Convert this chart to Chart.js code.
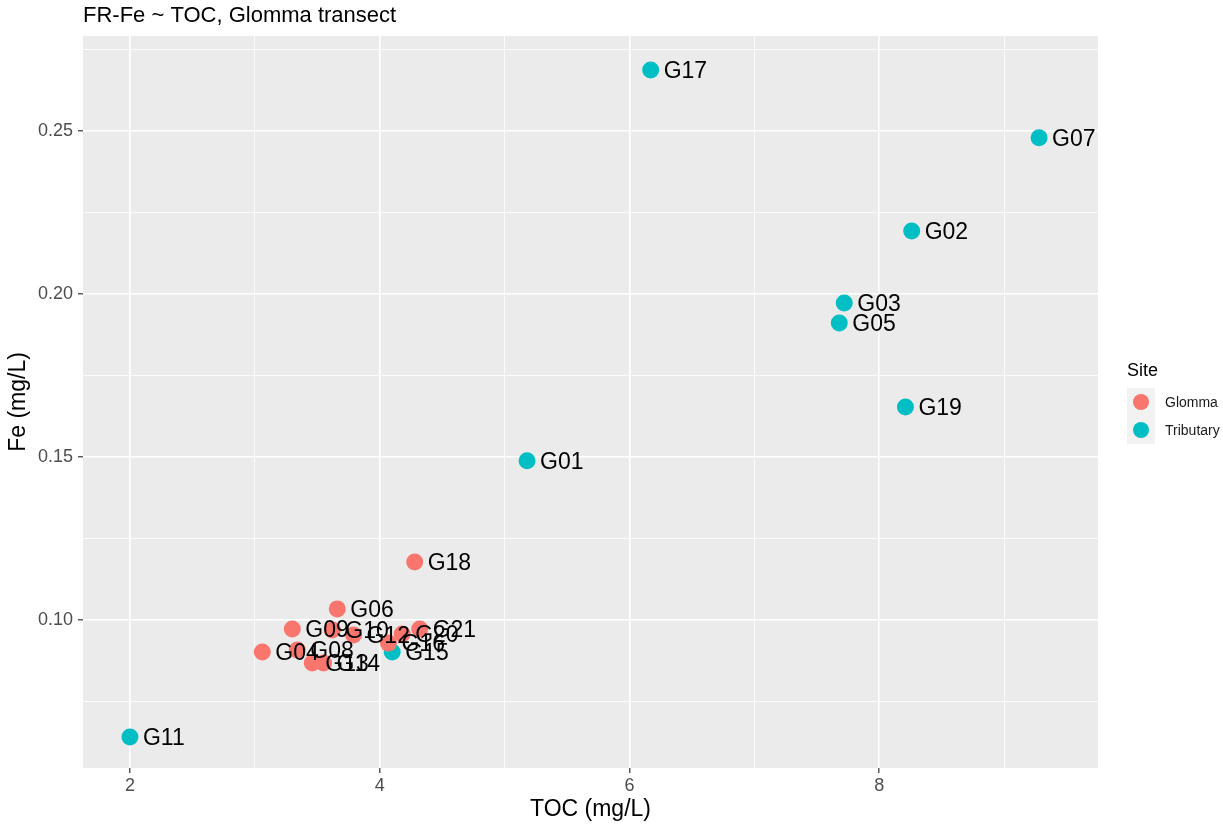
<!DOCTYPE html>
<html>
<head>
<meta charset="utf-8">
<script src="https://cdn.jsdelivr.net/npm/chart.js@4"></script>
<style>
  body { margin: 0; background: #fff; }
  #wrap { width: 1223px; height: 825px; }
</style>
</head>
<body>
<div id="wrap"><canvas id="feChart"></canvas></div>
<script>
// data
const glommaSites = ['G04', 'G06', 'G08', 'G09', 'G10', 'G12', 'G13', 'G14', 'G16', 'G18', 'G20', 'G21'];
const glommaToc   = [3.06, 3.66, 3.34, 3.30, 3.62, 3.79, 3.46, 3.55, 4.07, 4.28, 4.18, 4.32];
const glommaFe    = [0.0902, 0.1034, 0.0908, 0.0972, 0.0969, 0.0954, 0.0868, 0.0868, 0.0929, 0.1178, 0.0957, 0.0972];

const tribSites = ['G01', 'G02', 'G03', 'G05', 'G07', 'G11', 'G15', 'G17', 'G19'];
const tribToc   = [5.18, 8.26, 7.72, 7.68, 9.28, 2.00, 4.10, 6.17, 8.21];
const tribFe    = [0.1488, 0.2193, 0.1972, 0.1911, 0.2479, 0.0641, 0.0902, 0.2687, 0.1653];

const xGrid = [2, 3, 4, 5, 6, 7, 8, 9];
const yGrid = [0.075, 0.10, 0.125, 0.15, 0.175, 0.20, 0.225, 0.25, 0.275];

const colGlomma = '#F8766D';
const colTrib = '#00BFC4';
const FONT = '"Liberation Sans", Arial, sans-serif';

function pts(names, xs, ys) {
  return names.map((n, i) => ({ x: xs[i], y: ys[i], name: n }));
}

const isMajorX = v => Math.abs(v % 2) < 1e-9;
const isMajorY = v => Math.abs(v * 20 - Math.round(v * 20)) < 1e-6;

// grey panel like ggplot
const panelBg = {
  id: 'panelBg',
  beforeDraw(chart) {
    const { ctx, chartArea: a } = chart;
    ctx.save();
    ctx.fillStyle = '#EBEBEB';
    ctx.fillRect(a.left, a.top, a.right - a.left, a.bottom - a.top);
    ctx.restore();
  }
};

// site name next to every point + title + legend
const extras = {
  id: 'extras',
  afterDatasetsDraw(chart) {
    const ctx = chart.ctx;
    ctx.save();
    ctx.font = '23px ' + FONT;
    ctx.fillStyle = '#000';
    ctx.textBaseline = 'middle';
    chart.data.datasets.forEach((ds, di) => {
      chart.getDatasetMeta(di).data.forEach((el, i) => {
        ctx.fillText(ds.data[i].name, el.x + 13, el.y + 2);
      });
    });
    ctx.restore();
  },
  afterDraw(chart) {
    const ctx = chart.ctx;
    ctx.save();
    ctx.fillStyle = '#000';
    ctx.textBaseline = 'middle';
    ctx.font = '22px ' + FONT;
    ctx.fillText('FR-Fe ~ TOC, Glomma transect', 83, 16);

    // legend
    ctx.font = '18px ' + FONT;
    ctx.fillText('Site', 1127, 371);
    const keyX = 1127, keyY = 388, keyS = 28;
    ctx.font = '14px ' + FONT;
    chart.data.datasets.forEach((ds, i) => {
      const y = keyY + i * keyS;
      ctx.fillStyle = '#F2F2F2';
      ctx.fillRect(keyX, y, keyS, keyS);
      ctx.fillStyle = ds.backgroundColor;
      ctx.beginPath();
      ctx.arc(keyX + keyS / 2, y + keyS / 2, 8, 0, Math.PI * 2);
      ctx.fill();
      ctx.fillStyle = '#1a1a1a';
      ctx.fillText(ds.label, keyX + keyS + 10, y + keyS / 2 + 1);
    });
    ctx.restore();
  }
};

new Chart(document.getElementById('feChart'), {
  type: 'scatter',
  data: {
    datasets: [
      { label: 'Glomma', data: pts(glommaSites, glommaToc, glommaFe),
        backgroundColor: colGlomma, borderWidth: 0, pointRadius: 8.5 },
      { label: 'Tributary', data: pts(tribSites, tribToc, tribFe),
        backgroundColor: colTrib, borderWidth: 0, pointRadius: 8.5 }
    ]
  },
  options: {
    responsive: true,
    maintainAspectRatio: false,
    animation: false,
    layout: { padding: { left: 0, right: 125, top: 36, bottom: 0 } },
    plugins: {
      legend: { display: false },
      tooltip: { enabled: false }
    },
    scales: {
      x: {
        type: 'linear',
        min: 1.624,
        max: 9.752,
        afterBuildTicks: s => { s.ticks = xGrid.map(v => ({ value: v })); },
        afterFit: s => { s.height = 57; },
        border: { display: false },
        grid: {
          color: '#FFFFFF',
          lineWidth: c => isMajorX(c.tick.value) ? 1.6 : 0.8,
          tickColor: c => isMajorX(c.tick.value) ? '#333333' : 'rgba(0,0,0,0)',
          tickWidth: 1.2,
          tickLength: 5
        },
        ticks: {
          autoSkip: false,
          maxRotation: 0,
          padding: 2,
          color: '#4D4D4D',
          font: { family: FONT, size: 18 },
          callback: v => isMajorX(v) ? String(v) : ''
        },
        title: {
          display: true,
          text: 'TOC (mg/L)',
          color: '#000',
          padding: { top: 2, bottom: 2 },
          font: { family: FONT, size: 23 }
        }
      },
      y: {
        type: 'linear',
        min: 0.0546,
        max: 0.2791,
        afterBuildTicks: s => { s.ticks = yGrid.map(v => ({ value: v })); },
        afterFit: s => { s.width = 83; },
        border: { display: false },
        grid: {
          color: '#FFFFFF',
          lineWidth: c => isMajorY(c.tick.value) ? 1.6 : 0.8,
          tickColor: c => isMajorY(c.tick.value) ? '#333333' : 'rgba(0,0,0,0)',
          tickWidth: 1.2,
          tickLength: 5
        },
        ticks: {
          autoSkip: false,
          padding: 5,
          color: '#4D4D4D',
          font: { family: FONT, size: 18 },
          callback: v => isMajorY(v) ? v.toFixed(2) : ''
        },
        title: {
          display: true,
          text: 'Fe (mg/L)',
          color: '#000',
          padding: { top: 5, bottom: 2 },
          font: { family: FONT, size: 23 }
        }
      }
    }
  },
  plugins: [panelBg, extras]
});
</script>
</body>
</html>
